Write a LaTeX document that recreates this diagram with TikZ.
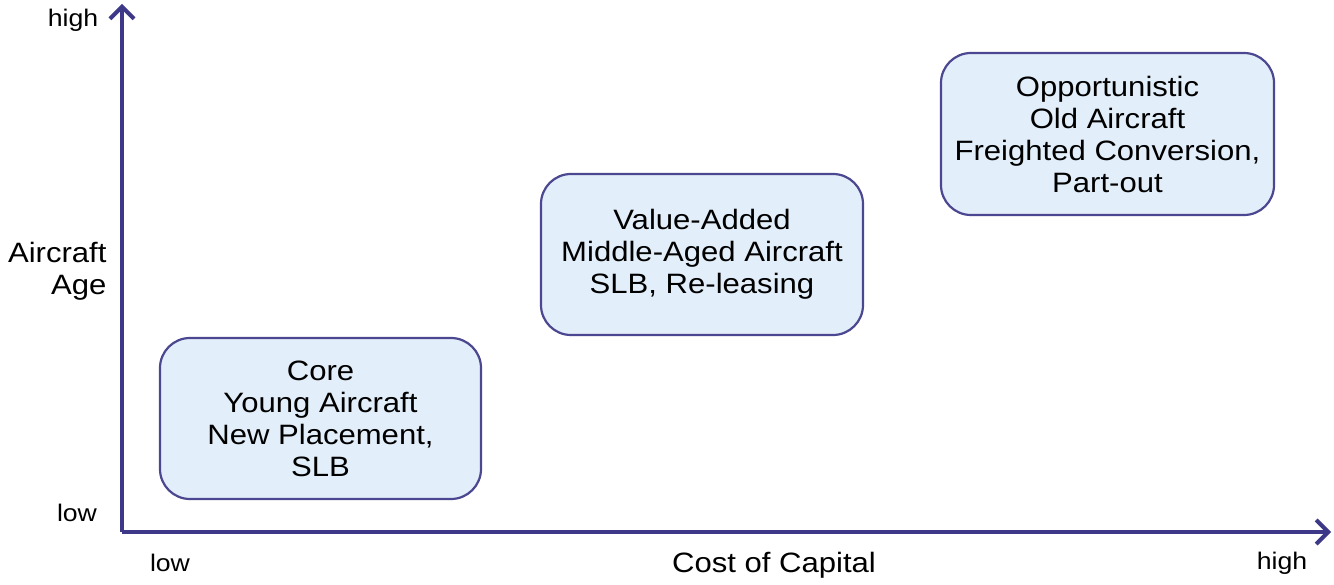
\documentclass[tikz,border=0pt]{standalone}
\usepackage{fontspec}
\setmainfont{Liberation Sans}[FakeStretch=1.11]
\usetikzlibrary{arrows.meta}
\definecolor{axiscol}{HTML}{3E3888}
\definecolor{boxfill}{HTML}{E2EEF9}
\definecolor{boxdraw}{HTML}{4B4790}
\tikzset{
  axisline/.style={draw=axiscol, line width=4pt, -{Straight Barb[length=12pt,width=24pt,line width=4pt]}},
  quad/.style={draw=boxdraw, fill=boxfill, line width=2.2pt, rounded corners=30pt, align=center,
    font=\fontsize{28}{32}\selectfont, inner sep=0pt},
  small/.style={font=\fontsize{24}{28}\selectfont},
  big/.style={font=\fontsize{28}{32}\selectfont}
}
\begin{document}
\begin{tikzpicture}[x=1pt,y=-1pt]
\useasboundingbox (0,0) rectangle (1334,585);
\coordinate (o) at (122,532);
\coordinate (ytop) at (122,4);
\coordinate (xend) at (1331,532);
\draw[axisline] (o) -- (ytop);
\draw[axisline] (o) -- (xend);
\node[quad, minimum width=321pt, minimum height=161pt] (core) at (320.5,418.5) {Core\\Young Aircraft\\New Placement,\\SLB};
\node[quad, minimum width=322pt, minimum height=161pt] (value) at (702,254.5) {Value-Added\\Middle-Aged Aircraft\\SLB, Re-leasing};
\node[quad, minimum width=333pt, minimum height=162pt] (opp) at (1107.5,134) {Opportunistic\\Old Aircraft\\Freighted Conversion,\\Part-out};
\node[small] (yhigh) at (73,20) {high};
\node[small] (ylow) at (77,513) {low};
\node[big, align=right, anchor=east] (ylab) at (110,271) {Aircraft\\Age};
\node[small] (xlow) at (170,563) {low};
\node[big] (xlab) at (774,565) {Cost of Capital};
\node[small] (xhigh) at (1282,563) {high};
\end{tikzpicture}
\end{document}
